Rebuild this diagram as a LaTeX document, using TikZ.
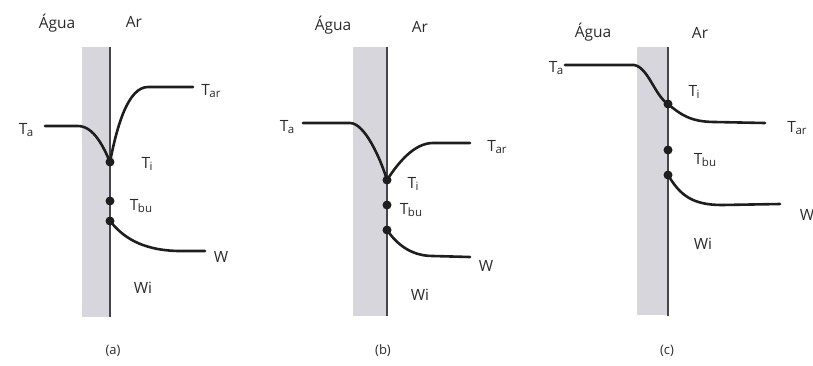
\documentclass[tikz,border=0pt]{standalone}
\usepackage{fontspec}
\setmainfont{Open Sans}
\newcommand\Tsb[1]{T\kern-0.5pt\raisebox{-0.35ex}{\fontsize{11.5}{12}\selectfont #1}}
\definecolor{stripc}{HTML}{D6D6DC}
\definecolor{wallc}{HTML}{45454B}
\definecolor{curvec}{HTML}{1E1E1E}
\definecolor{txtc}{HTML}{2A2A2A}
\tikzset{
  strip/.style={fill=stripc, draw=none},
  wall/.style={draw=wallc, line width=2.2pt},
  curve/.style={draw=curvec, line width=2.6pt, line cap=round},
  dot/.style={circle, fill=curvec, inner sep=0pt, minimum size=9pt},
  lab/.style={text=txtc, font=\fontsize{15.5}{17}\selectfont, inner sep=0pt},
  caplab/.style={text=txtc, font=\fontsize{13}{15}\selectfont, inner sep=0pt}
}
\begin{document}
\begin{tikzpicture}[x=1pt,y=-1pt]
\useasboundingbox (0,0) rectangle (813,365);
\clip (0,0) rectangle (813,365);
% ---------- panel (a)
\fill[strip] (82,47) rectangle (110,317);
\draw[wall] (110,47) -- (110,317);
\node[lab] (agA) at (57,23) {Água};
\node[lab] (arA) at (134,22) {Ar};
\coordinate (taA) at (45,126);
\coordinate (tarA) at (193,87);
\coordinate (wA) at (205,251);
\node[dot] (tiA) at (110,162) {};
\node[dot] (tbuA) at (110,201) {};
\node[dot] (wiA) at (110,221) {};
\draw[curve] (taA) -- (78,126) .. controls (94,126) and (104,148) .. (tiA.center);
\draw[curve] (tiA.center) .. controls (117,126) and (128,87) .. (148,87) -- (tarA);
\draw[curve] (wiA.center) .. controls (122,236) and (140,250) .. (178,251) -- (wA);
\node[lab] (lTaA) at (26,130) {\Tsb{a}};
\node[lab] (lTarA) at (211,91) {\Tsb{ar}};
\node[lab] (lTiA) at (147,164) {\Tsb{i}};
\node[lab] (lTbuA) at (141,206) {\Tsb{bu}};
\node[lab] (lWA) at (221,257) {W};
\node[lab] (lWiA) at (143,288) {Wi};
\node[caplab] (cA) at (113,351) {(a)};
% ---------- panel (b)
\fill[strip] (353,47) rectangle (387,316);
\draw[wall] (387,47) -- (387,316);
\node[lab] (agB) at (333,25) {Água};
\node[lab] (arB) at (420,27) {Ar};
\coordinate (taB) at (303,123);
\coordinate (tarB) at (470,143);
\coordinate (wB) at (470,257);
\node[dot] (tiB) at (387,180) {};
\node[dot] (tbuB) at (387,205) {};
\node[dot] (wiB) at (387,230) {};
\draw[curve] (taB) -- (350,123) .. controls (365,123) and (381,160) .. (tiB.center);
\draw[curve] (tiB.center) .. controls (398,163) and (414,143) .. (433,143) -- (tarB);
\draw[curve] (wiB.center) .. controls (396,243) and (410,256) .. (433,256) -- (wB);
\node[lab] (lTaB) at (287,127) {\Tsb{a}};
\node[lab] (lTarB) at (497,147) {\Tsb{ar}};
\node[lab] (lTiB) at (413,184) {\Tsb{i}};
\node[lab] (lTbuB) at (411,210) {\Tsb{bu}};
\node[lab] (lWB) at (486,266) {W};
\node[lab] (lWiB) at (420,295) {Wi};
\node[caplab] (cB) at (383,351) {(b)};
% ---------- panel (c)
\fill[strip] (637,47) rectangle (668,315);
\draw[wall] (668,47) -- (668,316);
\node[lab] (agC) at (593,32) {Água};
\node[lab] (arC) at (700,33) {Ar};
\coordinate (taC) at (565,65);
\coordinate (tarC) at (765,123);
\coordinate (wC) at (780,204);
\node[dot] (tiC) at (668,104) {};
\node[dot] (tbuC) at (668,150) {};
\node[dot] (wiC) at (668,175) {};
\draw[curve] (taC) -- (634,65) .. controls (648,67) and (655,96) .. (tiC.center);
\draw[curve] (tiC.center) .. controls (680,114) and (690,122) .. (715,122) -- (tarC);
\draw[curve] (wiC.center) .. controls (680,195) and (692,205) .. (722,205) -- (wC);
\node[lab] (lTaC) at (556,68) {\Tsb{a}};
\node[lab] (lTarC) at (797,128) {\Tsb{ar}};
\node[lab] (lTiC) at (694,92) {\Tsb{i}};
\node[lab] (lTbuC) at (705,160) {\Tsb{bu}};
\node[lab] (lWC) at (807,215) {W};
\node[lab] (lWiC) at (703,244) {Wi};
\node[caplab] (cC) at (667,351) {(c)};
\end{tikzpicture}
\end{document}
